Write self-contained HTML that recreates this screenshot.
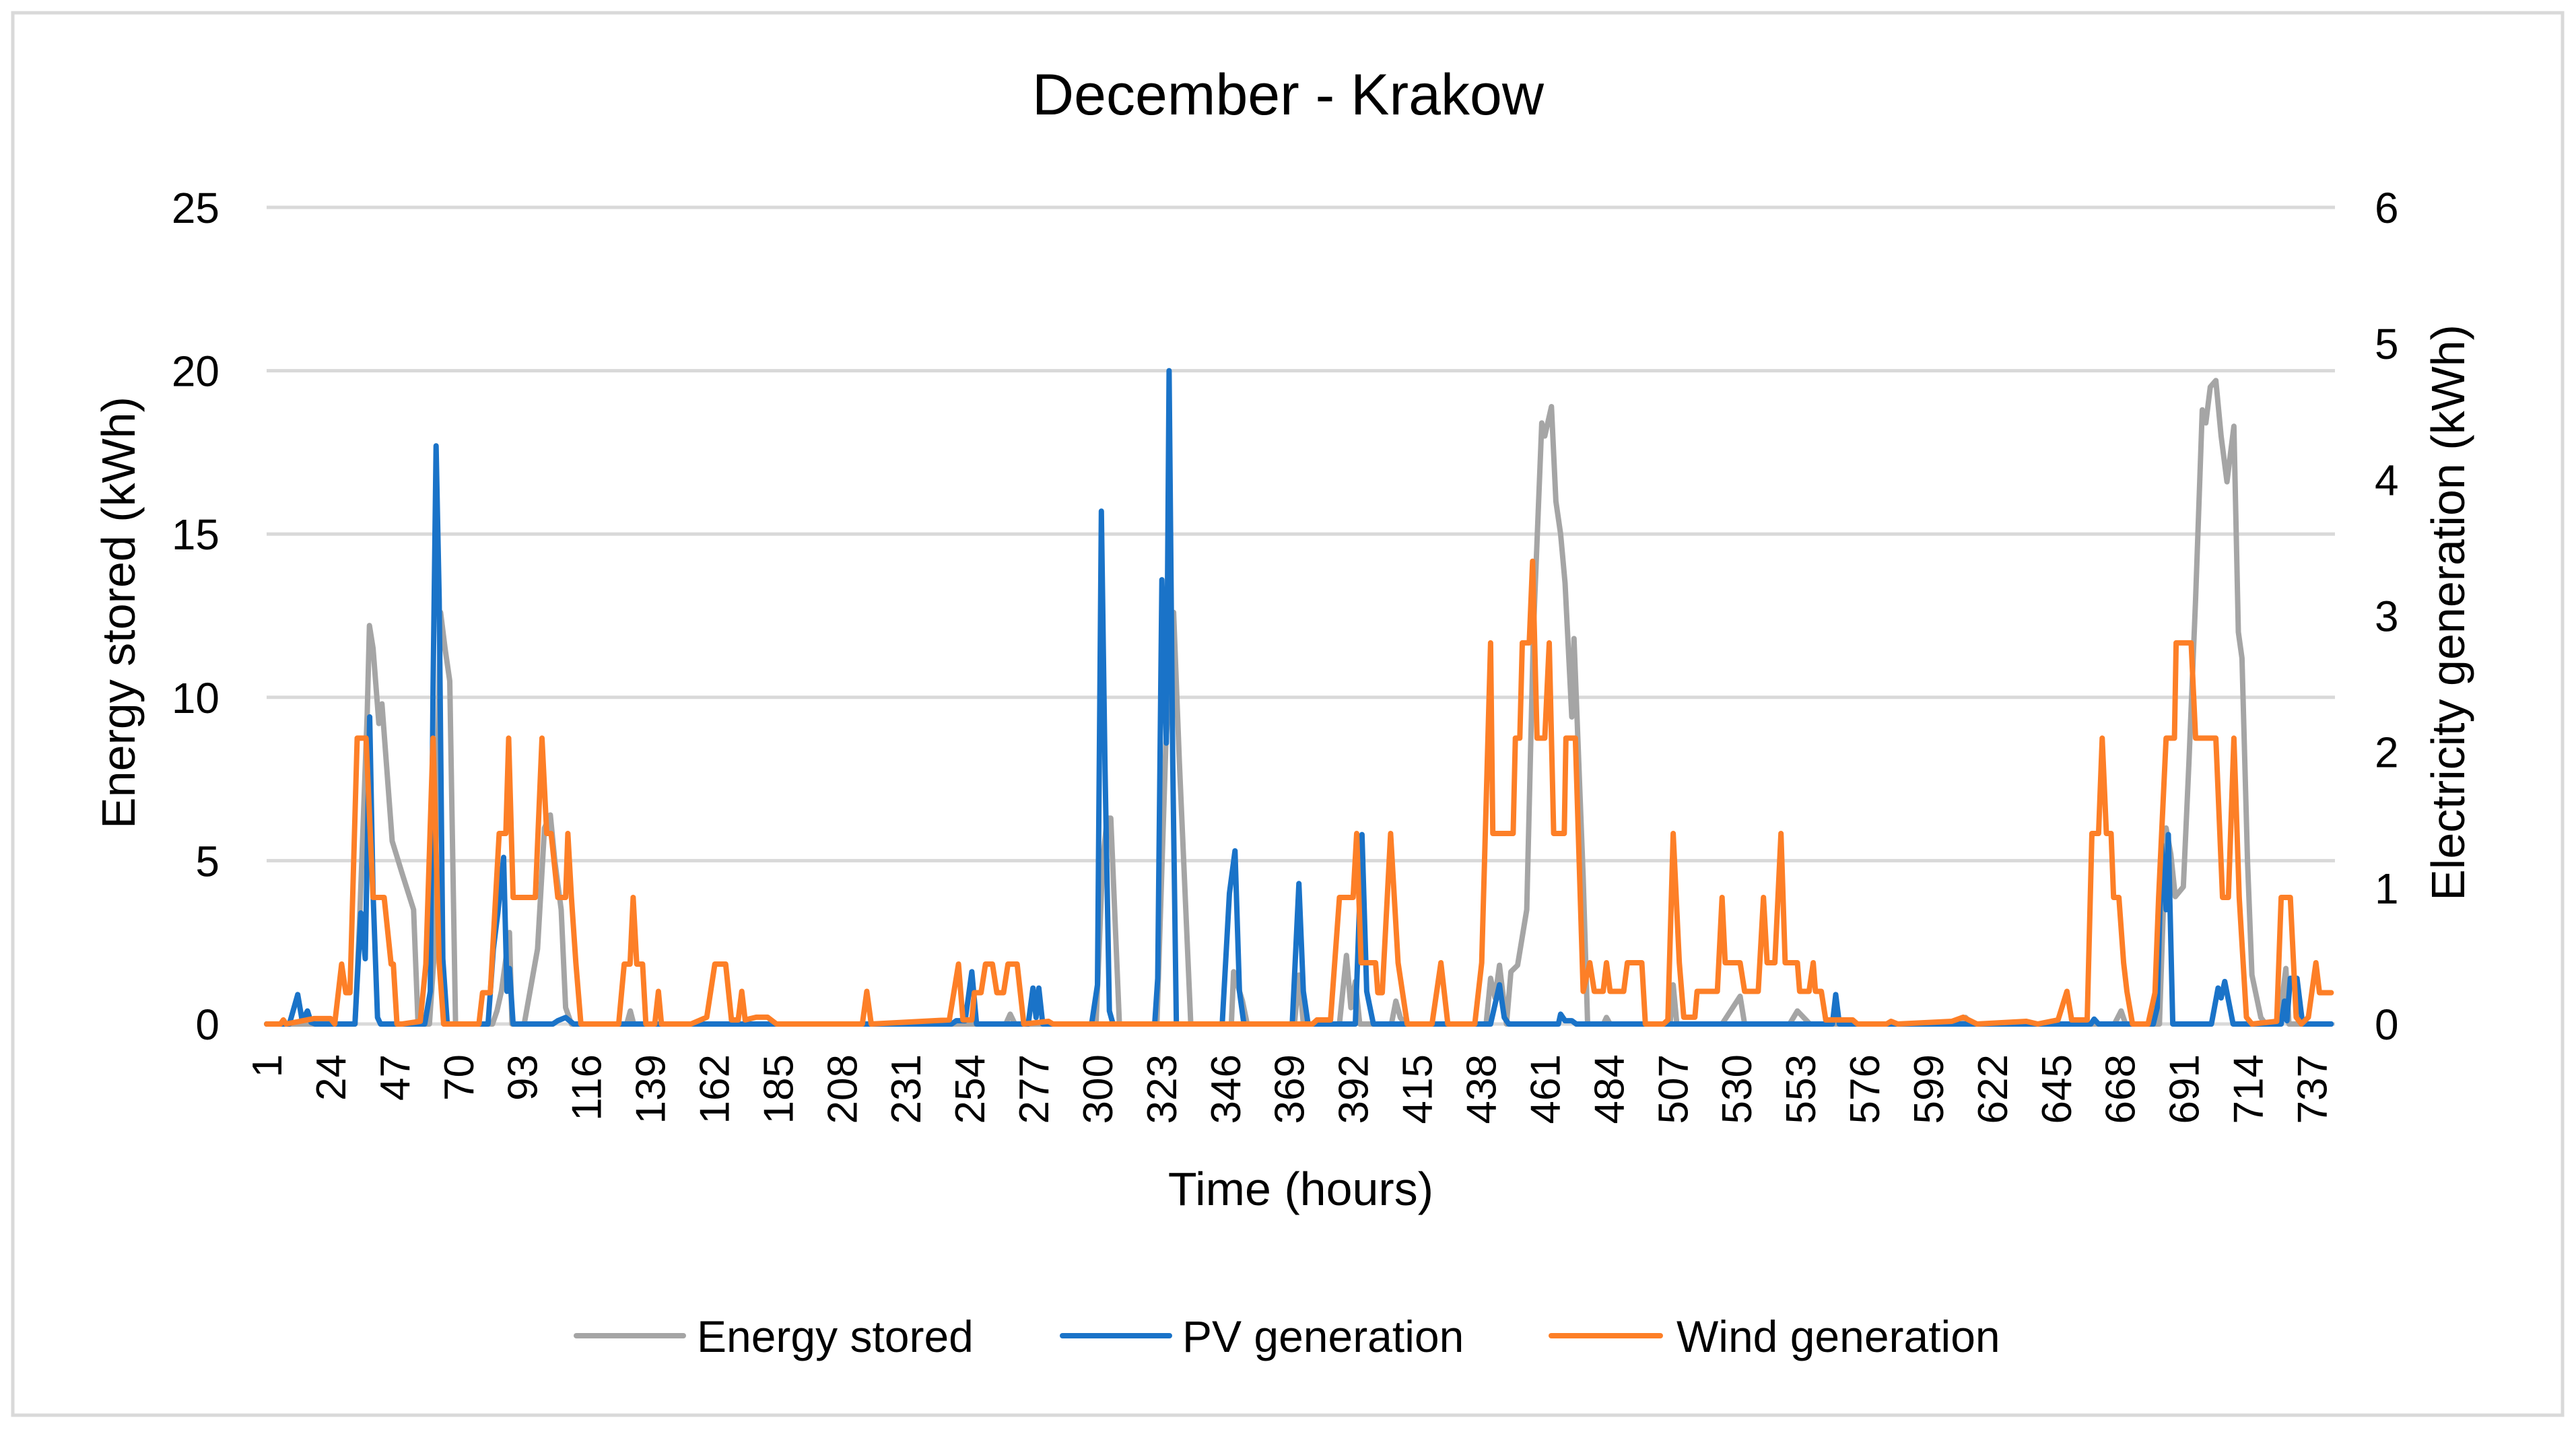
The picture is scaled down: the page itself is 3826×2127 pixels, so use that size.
<!DOCTYPE html>
<html><head><meta charset="utf-8">
<style>
html,body{margin:0;padding:0;background:#fff;}
svg{display:block;font-family:"Liberation Sans",Calibri,sans-serif;}
</style></head>
<body>
<svg id="chart" width="3826" height="2127" viewBox="0 0 3826 2127" xmlns="http://www.w3.org/2000/svg">
<rect x="19" y="19" width="3787" height="2083" fill="#fff" stroke="#d9d9d9" stroke-width="5"/>
<text x="1913" y="170" font-size="86" text-anchor="middle" fill="#000">December - Krakow</text>
<g id="grid"></g>
<g id="ylabels"></g>
<g id="y2labels"></g>
<g id="xlabels"></g>
<g id="series"></g>
<text transform="translate(200,910) rotate(-90)" font-size="70" text-anchor="middle">Energy stored (kWh)</text>
<text transform="translate(3660,910) rotate(-90)" font-size="70" text-anchor="middle">Electricity generation (kWh)</text>
<text x="1932" y="1790" font-size="70" text-anchor="middle">Time (hours)</text>
<g>
<line x1="856" y1="1984" x2="1015" y2="1984" stroke="#a5a5a5" stroke-width="8" stroke-linecap="round"/>
<text x="1035" y="2008" font-size="66">Energy stored</text>
<line x1="1578" y1="1984" x2="1737" y2="1984" stroke="#1a73c8" stroke-width="8" stroke-linecap="round"/>
<text x="1756" y="2008" font-size="66">PV generation</text>
<line x1="2304" y1="1984" x2="2466" y2="1984" stroke="#fd7f27" stroke-width="8" stroke-linecap="round"/>
<text x="2490" y="2008" font-size="66">Wind generation</text>
</g>
</svg>
<script>
const leftTicks=[0,5,10,15,20,25];
const rightTicks=[0,1,2,3,4,5,6];
const xTickHours=[1,24,47,70,93,116,139,162,185,208,231,254,277,300,323,346,369,392,415,438,461,484,507,530,553,576,599,622,645,668,691,714,737];

const storedHours=[1,32.8,34.4,37.2,38,39.3,41.4,42.5,46.2,49.8,53.9,55.5,59.6,61.2,63.6,65.2,66.9,69,82.3,83.9,85.5,88.4,89.3,93.7,98.5,101,103.1,104.7,107,108.6,110.7,130.6,131.9,133.1,267,268.6,270.3,299.5,301.9,303.5,304.8,307.9,321.4,324.6,327.4,329.5,333.6,348.2,349,352.2,353.9,370.9,372.5,374.1,387.1,389.6,391.2,392.8,394.4,405.8,407.4,409,410.7,439.9,441.5,443.1,444.7,447.2,448.8,451.2,454.5,456.9,459.9,461,463.4,465,466.7,468.3,470.7,471.5,474.8,476.4,482.1,483.2,484.5,506.1,507.2,508.5,524.8,531.3,532.9,549.1,551.9,556.4,610.8,612.4,614.8,666,668.4,670,682.2,684.6,686.3,687.9,690.8,692.8,695.2,697.6,698.9,700.5,702.5,704.4,706.5,709,710.6,711.9,713.9,715.5,718.7,720.4,725.2,727.7,728.8,744];
const storedValues=[0,0,3,9.5,12.2,11.5,9.2,9.8,5.6,4.6,3.5,0,0,2,12.6,11.5,10.5,0,0,0.4,1,2.8,0,0,2.3,6,6.4,5,3.5,0.5,0,0,0.4,0,0,0.3,0,0,5,6.3,6.3,0,0,8.5,12.6,8,0,0,1.6,0.7,0,0,1.5,0,0,2.1,0.5,1.3,0,0,0.7,0.2,0,0,1.4,0.8,1.8,0,1.6,1.8,3.5,12,18.4,18,18.9,16,15,13.5,9.4,11.8,4.5,0,0,0.2,0,0,1.2,0,0,0.85,0,0,0.4,0,0,0.2,0,0,0.4,0,0,6,5.2,3.9,4.2,8,13,18.8,18.4,19.5,19.7,18,16.6,18.3,12,11.2,5,1.5,0.2,0,0,1.7,0,0];

const pvHours=[1,9.2,12.2,13.8,15.7,17,18.5,32.8,34.9,36.5,38.1,39.3,40.9,42,57.9,59.9,60.9,62,63.1,64.4,66,80.7,82.6,84.2,86.3,87.5,88.4,89.7,104,105.8,108.6,111.5,247.5,249.2,252.4,254.8,256.5,275.1,276.8,277.9,278.9,280.3,297.9,300,301.4,302.7,304.3,305.6,320.6,321.7,323.2,324.8,325.8,327.1,328.4,344.9,347.5,349.5,351.1,352.7,370.1,372.5,374.1,375.8,392.8,395.2,396.9,399.3,441.5,444.7,446.4,448,465.9,466.7,468.3,470.7,472.3,564.5,565.7,567,657.5,658.7,660.3,680,681.4,683,684.6,685.4,687,700.9,703.3,704.4,705.7,708.7,726,727.2,728.1,729.3,731.7,733.7,744];
const pvValues=[0,0,0.9,0.1,0.4,0.05,0,0,3.4,2,9.4,4,0.2,0,0,1,10.3,17.7,13,2,0,0,2.3,3.4,5.1,1,1.7,0,0,0.1,0.2,0,0,0.1,0.1,1.6,0,0,1.1,0.2,1.1,0,0,1.2,15.7,8,0.4,0,0,1.4,13.6,8.6,20,8,0,0,4,5.3,1,0,0,4.3,1,0,0,5.8,1,0,0,1.2,0.2,0,0,0.3,0.1,0.1,0,0,0.9,0,0,0.15,0,0,0.5,5.5,3.5,5.8,0,0,1.1,0.8,1.3,0,0,0.7,0.1,1.4,1.4,0,0];

const windHours=[1,6,7,8,18,24,25.5,28,29.5,31,33.6,36.8,39.3,43.3,45.8,46.6,47.9,49.8,56.3,58.3,60.9,63.1,64.7,77.4,78.7,81.5,84.7,87.1,88.1,89.7,97.7,100.1,101.8,103.4,105.8,108.6,109.4,110.7,112.3,114.1,127.7,129.7,131.8,132.9,134.2,136.3,137.5,140.7,142,143.1,153.7,159.4,162.3,166.2,168.3,170.7,172,173.2,177.2,181.3,184.5,215.4,217,218.6,246.7,250,251.6,254.8,255.7,258.1,259.7,262.2,263.8,266.2,267.8,271.1,273.5,282.4,284,377.4,379,383.9,387.1,392,393.3,394.9,400.1,400.9,402.5,405.5,408.2,411.5,420.4,423.6,426.1,435.8,438.3,441.5,442.3,449.6,450.4,452,452.9,455.4,456.6,458.2,461,462.6,464.2,468,468.6,472,474.8,477.2,478.8,482,483.2,484.5,489.4,490.7,495.9,497.2,503.7,505.3,507.2,509.4,511,515,515.8,523.1,524.8,525.9,531.3,532.9,537.8,539.7,541,543.8,546,547.5,551.9,552.7,556.1,557.6,558.4,560.5,562.1,571.8,573.5,584,585.6,588,607.5,611.6,616.5,634.3,638.4,645.7,648.9,650.6,656.2,657.9,660.3,661.6,663.1,664.8,665.7,667.6,669.3,670.5,672.5,678.1,680.6,681.9,684.6,687.6,688.2,693.6,695.2,702.5,704.9,707,709,710.9,713.5,715.5,724.4,726,729.3,731.4,733.3,735.8,738.5,739.8,744];
const windValues=[0,0,0.03,0,0.04,0.04,0,0.44,0.23,0.23,2.1,2.1,0.93,0.93,0.44,0.44,0,0,0.02,0.44,2.1,0.45,0,0,0.23,0.23,1.4,1.4,2.1,0.93,0.93,2.1,1.4,1.4,0.93,0.93,1.4,0.93,0.45,0,0,0.44,0.44,0.93,0.44,0.44,0,0,0.24,0,0,0.05,0.44,0.44,0.03,0.03,0.24,0.03,0.05,0.05,0,0,0.24,0,0.03,0.44,0.03,0.03,0.23,0.23,0.44,0.44,0.23,0.23,0.44,0.44,0,0.02,0,0,0.03,0.03,0.93,0.93,1.4,0.45,0.45,0.23,0.23,1.4,0.45,0,0,0.45,0,0,0.45,2.8,1.4,1.4,2.1,2.1,2.8,2.8,3.4,2.1,2.1,2.8,1.4,1.4,2.1,2.1,0.24,0.45,0.24,0.24,0.45,0.24,0.24,0.45,0.45,0,0,0.03,1.4,0.45,0.05,0.05,0.24,0.24,0.93,0.45,0.45,0.24,0.24,0.93,0.45,0.45,1.4,0.45,0.45,0.24,0.24,0.45,0.24,0.24,0.03,0.03,0,0,0.02,0,0.02,0.05,0,0.02,0,0.03,0.24,0.03,0.03,1.4,1.4,2.1,1.4,1.4,0.93,0.93,0.45,0.24,0,0,0.23,0.93,2.1,2.1,2.8,2.8,2.1,2.1,0.93,0.93,2.1,0.93,0.05,0,0.02,0.93,0.93,0.05,0,0.05,0.45,0.23,0.23];

const X0=396, XPH=4.127, Y0=1521, YTOP=308;
function xs(h){return X0+(h-1)*XPH;}
function yl(v){return Y0-(v/25)*(Y0-YTOP);}
function yr(v){return Y0-(v/6)*(Y0-YTOP);}
const NS="http://www.w3.org/2000/svg";
function mk(tag,attrs,parent){const e=document.createElementNS(NS,tag);for(const k in attrs)e.setAttribute(k,attrs[k]);parent.appendChild(e);return e;}

const grid=document.getElementById('grid');
const yg=document.getElementById('ylabels');
leftTicks.forEach(v=>{
  const ln=mk('line',{x1:396,x2:3468,y1:yl(v),y2:yl(v),stroke:'#d9d9d9','stroke-width':5},grid);
  
  
  const t=mk('text',{x:326,y:yl(v)+23,'font-size':64,'text-anchor':'end'},yg);
  t.textContent=v;
  
  
});
const y2g=document.getElementById('y2labels');
rightTicks.forEach(v=>{
  const t=mk('text',{x:3527,y:yr(v)+23,'font-size':64,'text-anchor':'start'},y2g);
  t.textContent=v;
  
  
});
const xg=document.getElementById('xlabels');
xTickHours.forEach(h=>{
  const x=xs(h)+22;
  const t=mk('text',{transform:`translate(${x},1566) rotate(-90)`,'font-size':62,'text-anchor':'end'},xg);
  t.textContent=h;
  
  
});
const sg=document.getElementById('series');
function drawLine(hours,vals,yf,color,name){
  const pts=hours.map((h,i)=>xs(h).toFixed(1)+','+yf(vals[i]).toFixed(1)).join(' ');
  const p=mk('polyline',{points:pts,fill:'none',stroke:color,'stroke-width':8,'stroke-linejoin':'round','stroke-linecap':'round'},sg);
  
  
}
drawLine(storedHours,storedValues,yl,'#a5a5a5','energy-stored-line');
drawLine(pvHours,pvValues,yl,'#1a73c8','pv-generation-line');
drawLine(windHours,windValues,yr,'#fd7f27','wind-generation-line');
</script>
</body></html>
